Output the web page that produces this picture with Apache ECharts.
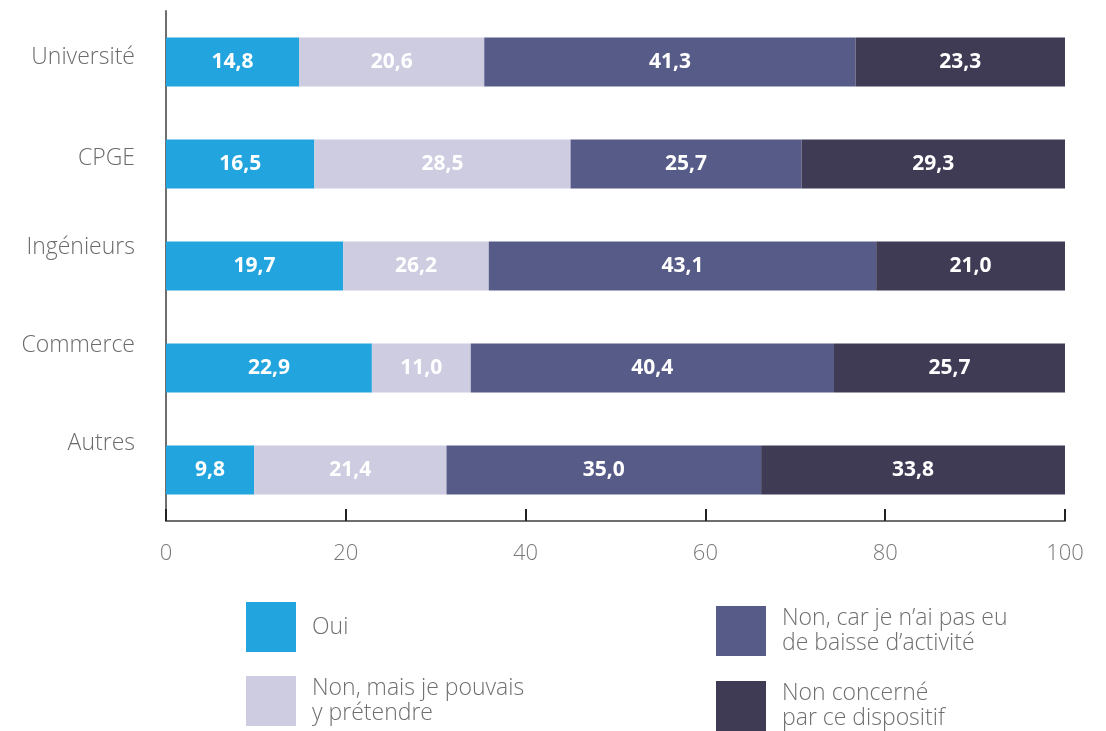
<!DOCTYPE html>
<html>
<head>
<meta charset="utf-8">
<script src="https://cdn.jsdelivr.net/npm/echarts@6/dist/echarts.min.js"></script>
<style>
  html, body { margin: 0; padding: 0; background: #fff; }
  #chart { width: 1106px; height: 731px; }
</style>
</head>
<body>
<div id="chart"></div>
<script>
const categories = ['Université', 'CPGE', 'Ingénieurs', 'Commerce', 'Autres'];
const xTicks = [0, 20, 40, 60, 80, 100];

const oui = [14.8, 16.5, 19.7, 22.9, 9.8];
// Ingénieurs: segment drawn ~16 wide in the source, but printed as 26,2
const nonMais = [20.6, 28.5, 16.2, 11.0, 21.4];
const nonMaisPrinted = ['20,6', '28,5', '26,2', '11,0', '21,4'];
const nonBaisse = [41.3, 25.7, 43.1, 40.4, 35.0];
const nonConcerne = [23.3, 29.3, 21.0, 25.7, 33.8];

const seriesNames = [
  'Oui',
  'Non, mais je pouvais\ny prétendre',
  'Non, car je n\u2019ai pas eu\nde baisse d\u2019activité',
  'Non concerné\npar ce dispositif'
];
const colors = ['#22a4de', '#cdcce0', '#575b88', '#403b55'];

const chart = echarts.init(document.getElementById('chart'));

const fmt = v => v.toFixed(1).replace('.', ',');
const labelFont = 'Open Sans';

// the category labels in the source sit a little above the bars
const yShift = [5, 6, 19, 23, 27];
const yRich = {};
yShift.forEach((s, i) => {
  yRich['a' + i] = {
    fontFamily: labelFont, fontWeight: 300, fontSize: 23, color: '#6b6b6b',
    padding: [0, 0, s * 2, 0]
  };
});

function makeSeries(idx, values, printed) {
  return {
    name: seriesNames[idx],
    type: 'bar',
    stack: 'total',
    barWidth: 49,
    itemStyle: { color: colors[idx] },
    label: {
      show: true,
      position: 'inside',
      color: '#fff',
      fontFamily: labelFont,
      fontWeight: 'bold',
      fontSize: 21,
      formatter: p => printed ? printed[p.dataIndex] : fmt(p.value)
    },
    emphasis: { disabled: true },
    data: values
  };
}

const legendText = {
  fontFamily: labelFont, fontWeight: 300, fontSize: 23, color: '#6f6f6f',
  lineHeight: 25, padding: [0, 0, 0, 11]
};

const option = {
  animation: false,
  grid: { left: 166, right: 41, top: 11, bottom: 210 },
  legend: [
    {
      left: 246, top: 602, orient: 'vertical', padding: 0, height: 130,
      itemWidth: 50, itemHeight: 50, itemGap: 24,
      icon: 'rect', selectedMode: false,
      textStyle: legendText,
      data: [seriesNames[0], seriesNames[1]]
    },
    {
      left: 716, top: 606, orient: 'vertical', padding: 0, height: 130,
      itemWidth: 50, itemHeight: 50, itemGap: 25,
      icon: 'rect', selectedMode: false,
      textStyle: legendText,
      data: [seriesNames[2], seriesNames[3]]
    }
  ],
  xAxis: {
    type: 'value',
    min: xTicks[0],
    max: xTicks[xTicks.length - 1],
    interval: xTicks[1] - xTicks[0],
    axisLine: { show: true, lineStyle: { color: '#6e6e6e', width: 2 } },
    axisTick: { show: true, inside: true, length: 12, lineStyle: { color: '#222', width: 2 } },
    axisLabel: {
      margin: 22,
      fontFamily: labelFont, fontWeight: 300, fontSize: 22, color: '#7a7a7a'
    },
    splitLine: { show: false }
  },
  yAxis: {
    type: 'category',
    inverse: true,
    data: categories,
    axisLine: { show: true, lineStyle: { color: '#6e6e6e', width: 2 } },
    axisTick: { show: false },
    axisLabel: {
      margin: 31,
      formatter: (v, i) => '{a' + i + '|' + v + '}',
      rich: yRich
    }
  },
  series: [
    makeSeries(0, oui),
    makeSeries(1, nonMais, nonMaisPrinted),
    makeSeries(2, nonBaisse),
    makeSeries(3, nonConcerne)
  ]
};

chart.setOption(option);
</script>
</body>
</html>
